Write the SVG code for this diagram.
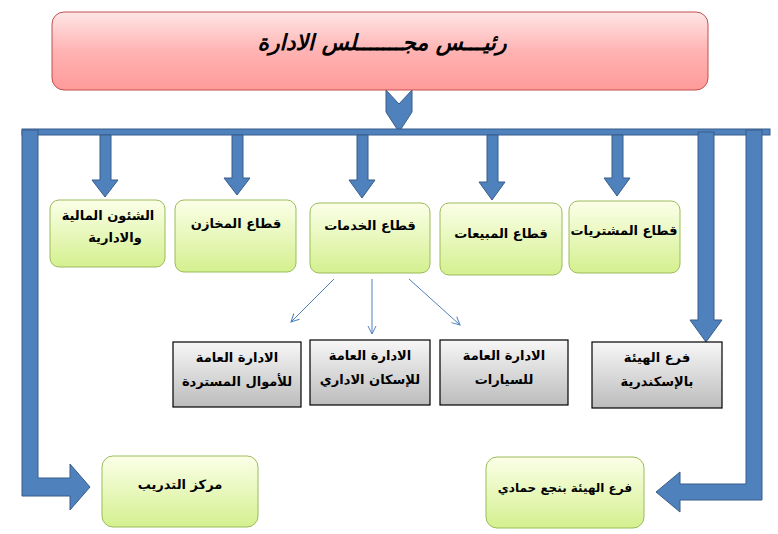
<svg xmlns="http://www.w3.org/2000/svg" width="778" height="534" viewBox="0 0 778 534">
<defs>
<linearGradient id="pink" x1="0" y1="0" x2="0" y2="1"><stop offset="0" stop-color="#ffe6e6"/><stop offset="0.5" stop-color="#ffb3b3"/><stop offset="1" stop-color="#ff9a9a"/></linearGradient>
<linearGradient id="green" x1="0" y1="0" x2="0" y2="1"><stop offset="0" stop-color="#fbffe8"/><stop offset="1" stop-color="#d4f08f"/></linearGradient>
<linearGradient id="gray" x1="0" y1="0" x2="0" y2="1"><stop offset="0" stop-color="#f7f7f7"/><stop offset="1" stop-color="#bcbcbc"/></linearGradient>
<marker id="thin" markerWidth="10" markerHeight="10" refX="9" refY="5" orient="auto" markerUnits="userSpaceOnUse"><path d="M1,1 L9,5 L1,9" fill="none" stroke="#4F81BD" stroke-width="1"/></marker>
</defs>
<style>
.g{fill:url(#green);stroke:#9bbb59;stroke-width:1}
.gr{fill:url(#gray);stroke:#000;stroke-width:1.2}
.bl{fill:#4F81BD;stroke:#385D8A;stroke-width:1}
text{font-family:"DejaVu Sans","Liberation Sans",sans-serif;font-weight:bold;font-size:13px;fill:#000;text-anchor:middle;direction:rtl}
.thin{stroke:#4F81BD;stroke-width:1;fill:none;marker-end:url(#thin)}
</style>
<g id="connectors">
<path class="bl" d="M386,90 L399,104 L412,90 L412,112 L399,132 L386,112 Z"/>
<rect class="bl" x="22" y="129" width="748" height="6"/>
<path class="bl" d="M22,130 L38,130 L38,478 L70,478 L70,464 L90,487 L70,510 L70,496 L22,496 Z"/>
<path class="bl" d="M746,130 L762,130 L762,500 L680,500 L680,512 L656,492 L680,472 L680,484 L746,484 Z"/>
<path class="bl" d="M698,132 L714,132 L714,320 L722,320 L706,342 L690,320 L698,320 Z"/>
<path class="bl" d="M100,135 L111,135 L111,180 L118,180 L105,197 L92,180 L100,180 Z"/>
<path class="bl" d="M232,135 L243,135 L243,178 L250,178 L237,195 L224,178 L232,178 Z"/>
<path class="bl" d="M357,135 L368,135 L368,180 L375,180 L362,198 L349,180 L357,180 Z"/>
<path class="bl" d="M487,135 L498,135 L498,182 L505,182 L492,200 L479,182 L487,182 Z"/>
<path class="bl" d="M612,135 L623,135 L623,178 L630,178 L617,196 L604,178 L612,178 Z"/>
<line class="thin" x1="334" y1="279" x2="291" y2="322"/>
<line class="thin" x1="372" y1="279" x2="372" y2="334"/>
<line class="thin" x1="409" y1="279" x2="460" y2="325"/>
</g>
<g id="n-head"><rect x="52" y="12" width="656" height="78" rx="12" fill="url(#pink)" stroke="#c0504d"/>
<text x="382" y="50" style="font-size:22px;font-style:italic">رئيـــس مجـــــــلس الادارة</text></g>
<g id="n1"><rect class="g" x="50" y="200" width="115" height="67" rx="9"/><text x="108" y="220">الشئون المالية</text><text x="115" y="242">والادارية</text></g>
<g id="n2"><rect class="g" x="175" y="200" width="121" height="72" rx="9"/><text x="236" y="228">قطاع المخازن</text></g>
<g id="n3"><rect class="g" x="310" y="203" width="120" height="70" rx="9"/><text x="370" y="230">قطاع الخدمات</text></g>
<g id="n4"><rect class="g" x="440" y="203" width="122" height="72" rx="9"/><text x="501" y="238">قطاع المبيعات</text></g>
<g id="n5"><rect class="g" x="569" y="201" width="111" height="72" rx="9"/><text x="624" y="235">قطاع المشتريات</text></g>
<g id="n6"><rect class="gr" x="173" y="342" width="128" height="65"/><text x="237" y="362">الادارة العامة</text><text x="237" y="386">للأموال  المستردة</text></g>
<g id="n7"><rect class="gr" x="310" y="340" width="120" height="65"/><text x="370" y="360">الادارة العامة</text><text x="370" y="384">للإسكان الاداري</text></g>
<g id="n8"><rect class="gr" x="440" y="340" width="128" height="65"/><text x="504" y="360">الادارة العامة</text><text x="504" y="384">للسيارات</text></g>
<g id="n9"><rect class="gr" x="592" y="342" width="130" height="66"/><text x="657" y="362">فرع الهيئة</text><text x="657" y="386">بالإسكندرية</text></g>
<g id="n10"><rect class="g" x="102" y="456" width="156" height="71" rx="11"/><text x="180" y="489">مركز التدريب</text></g>
<g id="n11"><rect class="g" x="486" y="457" width="158" height="71" rx="11"/><text x="565" y="492" style="font-size:12px">فرع الهيئة بنجع حمادي</text></g>
</svg>
